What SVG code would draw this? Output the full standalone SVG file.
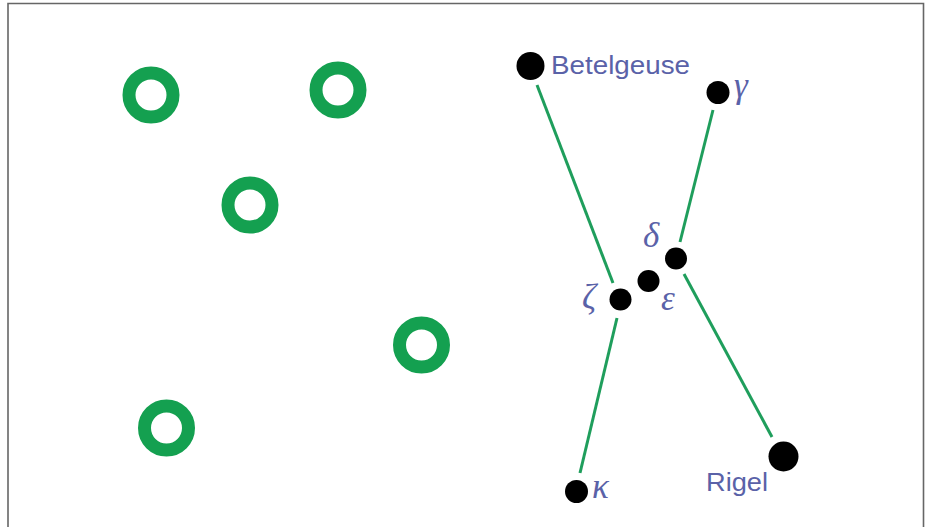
<svg xmlns="http://www.w3.org/2000/svg" width="929" height="527" viewBox="0 0 929 527">
<style>
.ring{fill:none;stroke:#14a050;stroke-width:13}
.star{fill:#000}
.conn line{stroke:#1f9e5c;stroke-width:3}
.lbl{font-family:"Liberation Sans",Arial,sans-serif;font-size:26px;fill:#5a62a8}
.gr{font-family:"Liberation Serif","DejaVu Serif",serif;font-style:italic;font-size:35px;fill:#5a62a8}
</style>
<rect width="929" height="527" fill="#fff"/>
<path d="M8,527 V3.5 H923.5 V527" fill="none" stroke="#666" stroke-width="1.6"/>
<g id="ring1"><circle class="ring" cx="151" cy="95" r="22"/></g>
<g id="ring2"><circle class="ring" cx="338" cy="90" r="22"/></g>
<g id="ring3"><circle class="ring" cx="250" cy="205" r="22"/></g>
<g id="ring4"><circle class="ring" cx="421.5" cy="345" r="22"/></g>
<g id="ring5"><circle class="ring" cx="166.5" cy="428" r="22"/></g>
<g class="conn" id="connectors">
<line x1="537" y1="85" x2="613" y2="283"/>
<line x1="617" y1="318" x2="580" y2="473"/>
<line x1="713" y1="110" x2="680" y2="242"/>
<line x1="684" y1="274" x2="772" y2="437"/>
</g>
<g id="betelgeuse"><circle class="star" cx="530.5" cy="66" r="14"/><text class="lbl" x="551" y="74" textLength="139" lengthAdjust="spacingAndGlyphs">Betelgeuse</text></g>
<g id="gamma"><circle class="star" cx="718" cy="92.5" r="11.5"/><text class="gr" x="734" y="97">γ</text></g>
<g id="delta"><circle class="star" cx="676" cy="258.5" r="11"/><text class="gr" x="643" y="247">δ</text></g>
<g id="epsilon"><circle class="star" cx="648.5" cy="281" r="11"/><text class="gr" x="661" y="310">ε</text></g>
<g id="zeta"><circle class="star" cx="620.5" cy="299.5" r="11"/><text class="gr" x="582" y="309">ζ</text></g>
<g id="kappa"><circle class="star" cx="576.5" cy="491.5" r="11.5"/><text class="gr" x="592" y="498">κ</text></g>
<g id="rigel"><circle class="star" cx="783.5" cy="456.5" r="15"/><text class="lbl" x="706" y="491" textLength="62" lengthAdjust="spacingAndGlyphs">Rigel</text></g>
</svg>
